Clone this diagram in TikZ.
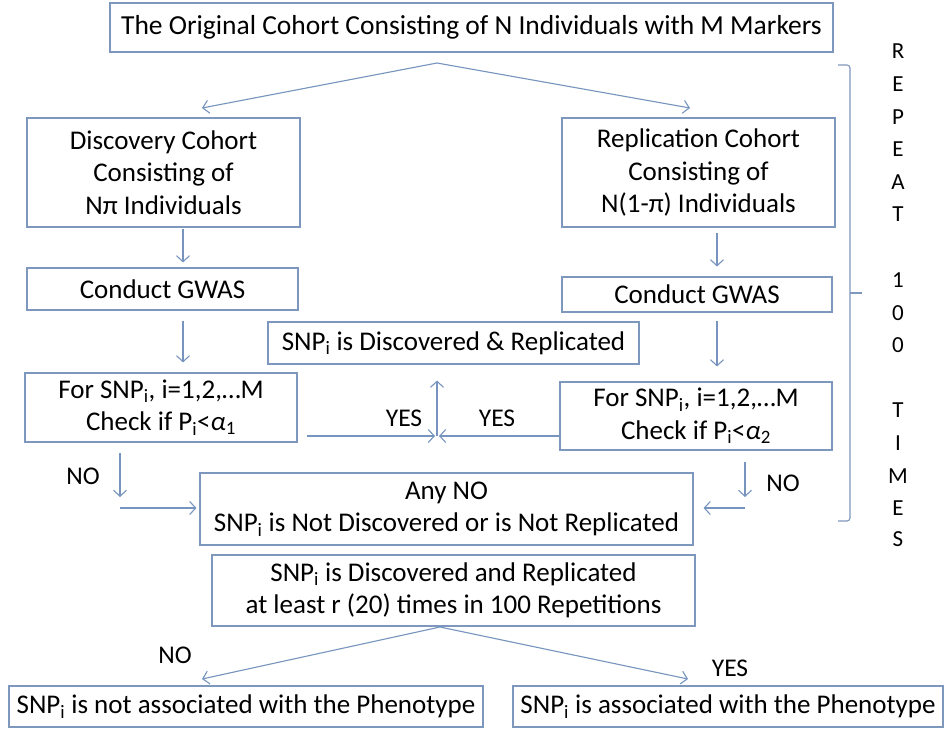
\documentclass[tikz,border=0pt]{standalone}
\usepackage{fontspec}
\setmainfont{Carlito}
\usetikzlibrary{arrows.meta}
\definecolor{ln}{RGB}{118,148,190}
\definecolor{bx}{RGB}{125,152,188}
\begin{document}
\begin{tikzpicture}[x=1pt,y=-1pt,
  box/.style={draw=bx, line width=1.1pt, inner sep=0pt, align=center,
    font=\fontsize{27}{32.5}\selectfont},
  arr/.style={draw=ln, line width=1.1pt, -{Straight Barb[length=6pt,width=13pt,line width=1.1pt]}},
  lbl/.style={font=\fontsize{25.5}{28}\selectfont, inner sep=0pt},
  rep/.style={font=\fontsize{23}{26}\selectfont, inner sep=0pt},
]
\useasboundingbox[fill=white] (0,0) rectangle (947,729);

% boxes
\node[box, minimum width=723pt, minimum height=49pt, font=\fontsize{27.5}{32.5}\selectfont] (top) at (471.5,27.5)
  {The Original Cohort Consisting of N Individuals with M Markers};
\node[box, minimum width=273pt, minimum height=109pt] (disc) at (163.5,172.5)
  {Discovery Cohort\\Consisting of\\Nπ Individuals};
\node[box, minimum width=273pt, minimum height=109pt] (repl) at (698.5,172.5)
  {Replication Cohort\\Consisting of\\N(1-π) Individuals};
\node[box, minimum width=271pt, minimum height=42pt] (lcond) at (162.5,289) {Conduct GWAS};
\node[box, minimum width=270pt, minimum height=35pt] (rcond) at (697,294.5) {Conduct GWAS};
\node[box, minimum width=272pt, minimum height=69pt] (lfor) at (161,407.5)
  {For SNP\textsubscript{i}, i=1,2,…M\\Check if P\textsubscript{i}<\textit{α}\textsubscript{1}};
\node[box, minimum width=272pt, minimum height=68pt] (rfor) at (696,416)
  {For SNP\textsubscript{i}, i=1,2,…M\\Check if P\textsubscript{i}<\textit{α}\textsubscript{2}};
\node[box, minimum width=371pt, minimum height=42pt] (dr) at (453.5,343)
  {SNP\textsubscript{i} is Discovered \& Replicated};
\node[box, minimum width=493pt, minimum height=72pt] (anyno) at (446.5,509)
  {Any NO\\SNP\textsubscript{i} is Not Discovered or is Not Replicated};
\node[box, minimum width=483pt, minimum height=71pt] (final) at (453.5,590.5)
  {SNP\textsubscript{i} is Discovered and Replicated\\at least r (20) times in 100 Repetitions};
\node[box, minimum width=474pt, minimum height=41pt] (notassoc) at (246,706.5)
  {SNP\textsubscript{i} is not associated with the Phenotype};
\node[box, minimum width=430pt, minimum height=41pt] (assoc) at (728,706.5)
  {SNP\textsubscript{i} is associated with the Phenotype};

% top split
\coordinate (apex) at (437,63);
\coordinate (dtip) at (202,108);
\coordinate (rtip) at (690,108);
\draw[arr] (apex) -- (dtip);
\draw[arr] (apex) -- (rtip);

% vertical flow
\coordinate (lx) at (183,0);
\coordinate (rx) at (717,0);
\draw[arr, shorten <=1pt, shorten >=5pt] (disc.south -| lx) -- (lcond.north -| lx);
\draw[arr, shorten <=10pt, shorten >=10pt] (lcond.south -| lx) -- (lfor.north -| lx);
\draw[arr, shorten <=5pt, shorten >=10pt] (repl.south -| rx) -- (rcond.north -| rx);
\draw[arr, shorten <=8pt, shorten >=15pt] (rcond.south -| rx) -- (rfor.north -| rx);

% YES merge
\coordinate (meet) at (437,436);
\draw[arr, shorten <=9pt, shorten >=2pt] (lfor.east |- meet) -- (meet);
\draw[arr, shorten >=2pt] (rfor.west |- meet) -- (meet);
\draw[arr, shorten >=16pt] (meet) -- (dr.south -| meet);
\node[lbl] (yes1) at (404,418) {YES};
\node[lbl] (yes2) at (497,418) {YES};

% NO branches
\coordinate (lnotop) at (120,453);
\coordinate (lnobot) at (120,497);
\coordinate (lnoh) at (120,508);
\draw[arr] (lnotop) -- (lnobot);
\draw[arr, shorten >=3pt] (lnoh) -- (anyno.west |- lnoh);
\node[lbl] (no1) at (83,476) {NO};
\coordinate (rnotop) at (745,462);
\coordinate (rnobot) at (745,497);
\coordinate (rnoh) at (745,508);
\draw[arr] (rnotop) -- (rnobot);
\draw[arr, shorten >=10pt] (rnoh) -- (anyno.east |- rnoh);
\node[lbl] (no2) at (783,483) {NO};

% bottom split
\coordinate (apex2) at (440,627);
\coordinate (ntip) at (202,679);
\coordinate (ytip) at (688,679);
\draw[arr] (apex2) -- (ntip);
\draw[arr] (apex2) -- (ytip);
\node[lbl] (no3) at (175,655) {NO};
\node[lbl] (yes3) at (730,668) {YES};

% bracket
\draw[draw=bx, line width=1.1pt, rounded corners=3pt] (838,65) -- (850,65) -- (850,521) -- (838,521);
\draw[draw=bx, line width=1.1pt] (850,293) -- (862,293);

% REPEAT 100 TIMES
\foreach \ch/\yy [count=\k] in {R/51,E/84,P/117,E/149,A/182,T/214,1/280,0/313,0/345,T/410,I/443,M/476,E/508,S/539}
  \node[rep] (rp\k) at (898,\yy) {\ch};
\end{tikzpicture}
\end{document}
